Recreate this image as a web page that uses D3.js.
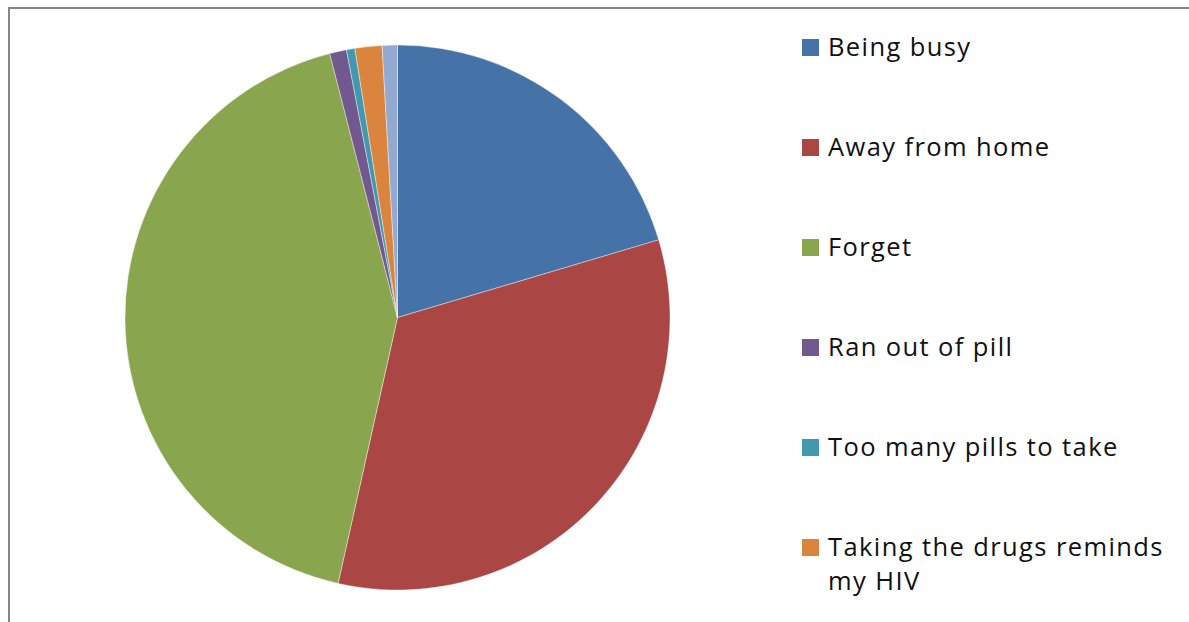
<!DOCTYPE html>
<html lang="en">
<head>
  <meta charset="UTF-8">
  <title>Reasons for missing doses</title>
  <style>
    body { margin: 0; background: #fff; }
    .legend text { font-family: "Open Sans", sans-serif; font-size: 25.5px; letter-spacing: 1.4px; fill: #111; }
  </style>
</head>
<body>
  <svg id="chart"></svg>
  <script src="https://d3js.org/d3.v7.min.js"></script>
  <script>
    // data (percent)
    const reasons = ["Being busy", "Away from home", "Forget", "Ran out of pill",
      "Too many pills to take", "Taking the drugs reminds my HIV", "Other"];
    const shares = [20.4, 33.1, 42.5, 1.0, 0.5, 1.6, 0.9];
    const colors = ["#4572A7", "#AA4643", "#89A54E", "#71588F", "#4198AF", "#DB843D", "#93A9CF"];
    // the reference only shows the first six legend entries (rest is cropped)
    const legendCount = 6;

    const W = 1189, H = 622;
    const svg = d3.select("#chart").attr("width", W).attr("height", H);

    // frame (only top and left edges visible)
    svg.append("path")
      .attr("d", `M9,${H} V8 H${W}`)
      .attr("fill", "none")
      .attr("stroke", "#868686")
      .attr("stroke-width", 2);

    const cx = 397.5, cy = 317.5, r = 272.5;
    const pie = d3.pie().sort(null).value(d => d.v);
    const arc = d3.arc().innerRadius(0).outerRadius(r);
    const data = reasons.map((name, i) => ({ name, v: shares[i], c: colors[i] }));

    svg.append("g")
      .attr("transform", `translate(${cx},${cy})`)
      .selectAll("path")
      .data(pie(data))
      .join("path")
      .attr("d", arc)
      .attr("fill", d => d.data.c)
      .attr("stroke", "#fff")
      .attr("stroke-width", 0.4);

    // legend
    const legend = svg.append("g").attr("class", "legend");
    const rowY = d3.scaleLinear().domain([0, 1]).range([56, 156]);
    const item = legend.selectAll("g")
      .data(data.slice(0, legendCount))
      .join("g")
      .attr("transform", (d, i) => `translate(802,${rowY(i)})`);
    item.append("rect")
      .attr("x", 0).attr("y", -17)
      .attr("width", 17).attr("height", 17)
      .attr("fill", d => d.c);
    item.append("text")
      .attr("x", 26)
      .each(function (d) {
        const t = d3.select(this);
        const lines = d.name === "Taking the drugs reminds my HIV"
          ? ["Taking the drugs reminds", "my HIV"] : [d.name];
        lines.forEach((ln, k) => {
          t.append("tspan").attr("x", 26).attr("y", k * 34).text(ln);
        });
      });
  </script>
</body>
</html>
